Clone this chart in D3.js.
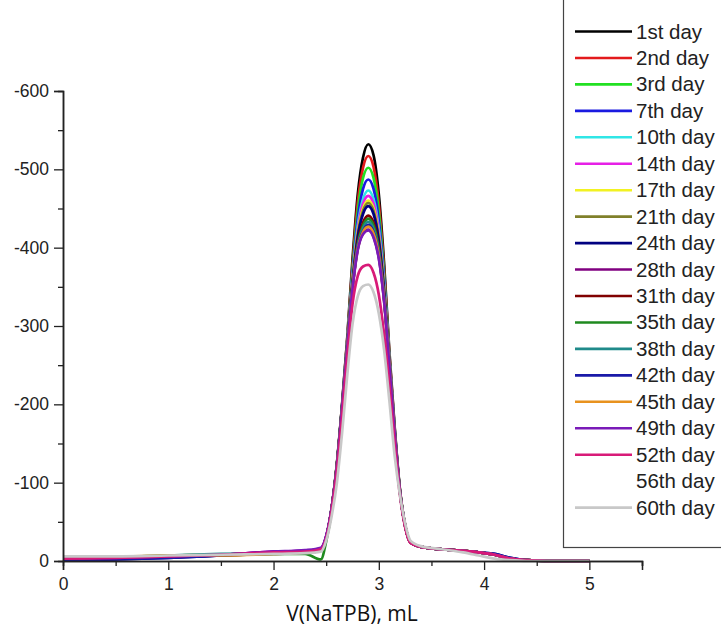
<!DOCTYPE html>
<html>
<head>
<meta charset="utf-8">
<script src="https://cdn.jsdelivr.net/npm/d3@7"></script>
<style>
  body { margin: 0; background: #fff; }
  svg { display: block; }
</style>
</head>
<body>
<script>
// Titration curves (values in mV, plotted as negative numbers)
var days = ["1st day", "2nd day", "3rd day", "7th day", "10th day", "14th day", "17th day",
            "21th day", "24th day", "28th day", "31th day", "35th day", "38th day", "42th day",
            "45th day", "49th day", "52th day", "56th day", "60th day"];

var colors = ["#000000", "#e31a1c", "#22e022", "#1a1ae0", "#30e6e6", "#e620e6", "#f2f222",
              "#80802a", "#000080", "#800080", "#800000", "#1f8a1f", "#1f8a8a", "#1a1aa8",
              "#e8921e", "#7a1ab8", "#d81a78", "#ffffff", "#c8c8c8"];

var xValues = [0, 0.5, 1, 1.5, 2, 2.3, 2.45, 2.5, 2.55, 2.6, 2.65, 2.7, 2.75, 2.8, 2.85, 2.9,
               2.95, 3.0, 3.05, 3.1, 3.15, 3.2, 3.25, 3.3, 3.4, 3.6, 3.8, 3.95, 4.1, 4.25, 4.4, 4.6, 5.0];

var d1  = [-2,-3,-5,-7,-9,-10,-13,-30,-66,-122,-198,-285,-385,-468,-515,-532,-518,-468,-380,-268,-172,-92,-46,-24,-18,-15,-13,-11,-8,-3,-1,0,0];
var d2  = [-3,-4,-6,-8,-10,-11,-14,-30,-65,-121,-197,-283,-378,-458,-502,-517,-503,-456,-372,-264,-170,-91,-46,-24,-18,-15,-13,-11,-8,-3,-1,0,0];
var d3v = [-3,-4,-6,-8,-10,-11,-14,-30,-65,-121,-196,-281,-372,-447,-489,-502,-489,-445,-366,-261,-169,-91,-46,-24,-18,-15,-13,-11,-8,-3,-1,0,0];
var d7  = [-2,-4,-6,-8,-10,-11,-14,-30,-65,-120,-196,-280,-367,-437,-475,-487,-475,-434,-360,-259,-168,-90,-45,-24,-18,-15,-13,-11,-8,-3,-1,0,0];
var d10 = [-3,-4,-6,-8,-10,-11,-14,-30,-65,-120,-195,-279,-363,-428,-462,-473,-462,-424,-354,-257,-167,-90,-45,-24,-18,-15,-13,-11,-8,-3,-1,0,0];
var d14 = [-3,-4,-6,-8,-12,-13,-16,-31,-65,-120,-195,-278,-360,-423,-456,-466,-456,-419,-351,-256,-167,-90,-45,-24,-18,-15,-13,-11,-8,-3,-1,0,0];
var d17 = [-4,-5,-7,-8,-10,-11,-14,-30,-65,-120,-195,-278,-358,-419,-450,-460,-450,-414,-348,-255,-166,-90,-45,-24,-18,-15,-13,-11,-8,-3,-1,0,0];
var d21 = [-3,-5,-7,-8,-10,-11,-14,-30,-65,-120,-195,-277,-357,-417,-447,-457,-447,-412,-347,-255,-166,-90,-45,-24,-18,-15,-13,-11,-8,-3,-1,0,0];
var d24 = [-1,-2,-4,-7,-10,-11,-14,-30,-65,-120,-195,-277,-355,-414,-443,-453,-443,-409,-345,-254,-166,-90,-45,-24,-18,-15,-13,-11,-9,-4,-1,0,0];
var d28 = [-3,-4,-6,-8,-12,-13,-16,-31,-65,-119,-193,-272,-348,-398,-418,-423,-414,-387,-332,-250,-164,-89,-45,-24,-18,-15,-13,-11,-8,-3,-1,0,0];
var d31 = [-2,-4,-6,-8,-10,-11,-14,-30,-65,-120,-194,-275,-352,-407,-432,-441,-432,-400,-339,-252,-165,-89,-45,-24,-18,-15,-13,-11,-8,-3,-1,0,0];
var d35 = [-3,-4,-6,-8,-9,-9,-2,-25,-62,-119,-194,-275,-351,-404,-428,-437,-428,-397,-337,-252,-165,-89,-45,-24,-18,-15,-13,-11,-8,-3,-1,0,0];
var d38 = [-3,-5,-7,-9,-10,-11,-14,-30,-65,-119,-194,-274,-350,-402,-425,-433,-424,-394,-336,-251,-165,-89,-45,-24,-18,-15,-13,-11,-8,-3,-1,0,0];
var d42 = [-1,-2,-4,-7,-10,-12,-15,-31,-65,-119,-194,-274,-349,-400,-421,-429,-420,-391,-335,-251,-165,-89,-45,-24,-18,-15,-13,-11,-9,-4,-1,0,0];
var d45 = [-3,-5,-7,-7,-9,-11,-14,-30,-65,-119,-193,-273,-348,-399,-420,-427,-418,-390,-334,-251,-165,-89,-45,-24,-18,-15,-13,-11,-8,-3,-1,0,0];
var d49 = [-3,-4,-6,-8,-12,-14,-17,-32,-66,-119,-193,-272,-347,-397,-417,-422,-413,-386,-332,-250,-164,-89,-45,-24,-18,-15,-13,-11,-8,-3,-1,0,0];
var d52 = [-3,-4,-6,-8,-11,-12,-15,-29,-62,-112,-182,-260,-328,-364,-376,-378,-368,-340,-290,-225,-150,-85,-43,-23,-18,-15,-13,-11,-8,-3,-1,0,0];
var d56 = [-3,-4,-6,-8,-10,-11,-14,-28,-60,-108,-176,-252,-318,-352,-363,-365,-356,-330,-282,-218,-145,-83,-42,-23,-18,-15,-13,-11,-8,-3,-1,0,0];
var d60 = [-6,-6,-7,-8,-9,-10,-12,-26,-56,-98,-162,-237,-302,-338,-351,-353,-343,-316,-270,-205,-135,-85,-48,-26,-19,-15,-11,-7,-3,-1,0,0,0];

var seriesValues = [d1, d2, d3v, d7, d10, d14, d17, d21, d24, d28, d31, d35, d38, d42, d45, d49, d52, d56, d60];

var xTicks = [0, 1, 2, 3, 4, 5];
var yTicks = [0, -100, -200, -300, -400, -500, -600];

var width = 721, height = 630;

var svg = d3.select("body").append("svg")
    .attr("width", width)
    .attr("height", height);

var x = d3.scaleLinear().domain([0, 5.5]).range([63, 642]);
var y = d3.scaleLinear().domain([0, -600]).range([561, 91]);

// curves: white 56th day first so it stays hidden, then the rest in legend order
var order = [17, 0, 1, 2, 3, 4, 5, 6, 7, 8, 9, 10, 11, 12, 13, 14, 15, 16, 18];

var line = d3.line()
    .x(function(d, i){ return x(xValues[i]); })
    .y(function(d){ return y(d); })
    .curve(d3.curveMonotoneX);

svg.append("g").selectAll("path")
    .data(order)
    .enter()
    .append("path")
    .attr("fill", "none")
    .attr("stroke", function(k){ return colors[k]; })
    .attr("stroke-width", 2.7)
    .attr("stroke-linejoin", "round")
    .attr("d", function(k){ return line(seriesValues[k]); });

// x axis
svg.append("g")
    .attr("transform", "translate(0,561)")
    .call(d3.axisBottom(x).tickValues(xTicks).tickFormat(d3.format("d")).tickSize(9).tickPadding(8));
svg.append("g")
    .attr("transform", "translate(0,561)")
    .call(d3.axisBottom(x).tickValues([0.5, 1.5, 2.5, 3.5, 4.5, 5.5]).tickFormat("").tickSize(5));

// y axis
svg.append("g")
    .attr("transform", "translate(63,0)")
    .call(d3.axisLeft(y).tickValues(yTicks).tickFormat(function(d){ return String(d); }).tickSize(9).tickPadding(5));
svg.append("g")
    .attr("transform", "translate(63,0)")
    .call(d3.axisLeft(y).tickValues([-50, -150, -250, -350, -450, -550]).tickFormat("").tickSize(5));

svg.selectAll(".domain")
    .attr("stroke", "#222")
    .attr("stroke-width", 1.5);
svg.selectAll(".tick line")
    .attr("stroke", "#222")
    .attr("stroke-width", 1.3);
svg.selectAll(".tick text")
    .attr("fill", "#222")
    .style("font-family", "Liberation Sans, Arial, sans-serif")
    .style("font-size", "17.5px");

// x axis title
svg.append("text")
    .attr("x", 352)
    .attr("y", 621)
    .attr("text-anchor", "middle")
    .attr("fill", "#111")
    .style("font-family", "Open Sans, sans-serif")
    .style("font-size", "21px")
    .text("V(NaTPB), mL");

// legend
var legend = svg.append("g");
legend.append("rect")
    .attr("x", 563.5)
    .attr("y", -2)
    .attr("width", 170)
    .attr("height", 549.5)
    .attr("fill", "#fff")
    .attr("stroke", "#444")
    .attr("stroke-width", 1.2);

var rows = legend.selectAll(".row")
    .data(days)
    .enter()
    .append("g")
    .attr("class", "row")
    .attr("transform", function(d, i){ return "translate(0," + (31.5 + i * 26.45) + ")"; });

rows.append("line")
    .attr("x1", 575)
    .attr("x2", 632)
    .attr("stroke", function(d, i){ return colors[i]; })
    .attr("stroke-width", 2.6);

rows.append("text")
    .attr("x", 636)
    .attr("y", 7)
    .attr("fill", "#222")
    .style("font-family", "Liberation Sans, Arial, sans-serif")
    .style("font-size", "20.5px")
    .text(function(d){ return d; });
</script>
</body>
</html>
